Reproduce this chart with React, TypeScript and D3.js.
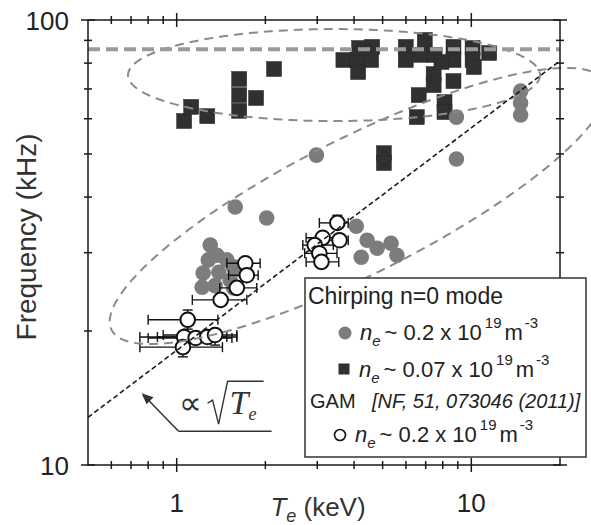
import * as d3 from "d3";
import { useEffect, useRef } from "react";

// chirping n=0 mode, n_e ~ 0.07e19 (squares)  [Te keV, f kHz]
const lowDensityChirp: [number, number][] = [
    [1.06, 59.3], [1.12, 63.8], [1.27, 60.8], [1.63, 73.7], [1.63, 67.8], [1.63, 62.5],
    [1.86, 66.8], [2.14, 77.6], [3.68, 81.3], [4.1, 81.3], [4.57, 81.3], [4.16, 86.5],
    [4.61, 87.0], [4.13, 76.4], [5.99, 87.0], [5.99, 81.3], [6.95, 90.2], [6.73, 83.5],
    [7.51, 83.5], [7.45, 75.6], [7.45, 71.4], [6.63, 67.8], [6.53, 60.5], [8.11, 65.4],
    [8.11, 62.1], [8.7, 87.0], [8.7, 81.3], [8.7, 72.9], [10.1, 86.5], [10.1, 81.3],
    [10.2, 78.4], [11.5, 84.3], [5.05, 50.2], [5.05, 47.7], [7.92, 80.5],
];

// chirping n=0 mode, n_e ~ 0.2e19 (grey circles)
const highDensityChirp: [number, number][] = [
    [1.58, 38.0], [2.02, 35.9], [2.98, 49.7], [8.9, 60.5], [8.9, 48.7],
    [14.7, 69.2], [14.7, 65.1], [14.7, 61.2],
    [4.07, 34.4], [4.43, 32.0], [4.23, 29.3], [4.79, 30.7], [5.34, 31.5], [5.59, 29.6],
    [1.3, 31.2], [1.28, 28.9], [1.48, 28.9], [1.56, 27.9], [1.23, 27.0], [1.39, 27.1],
    [1.52, 26.0], [1.22, 25.1], [1.56, 25.0], [1.35, 25.3], [1.64, 27.5], [1.37, 29.6],
];

type GamPoint = { te: number; f: number; xlo: number; xhi: number; ylo?: number; yhi?: number };

// GAM, NF 51 073046 (2011)
const gamPoints: GamPoint[] = [
    { te: 1.71, f: 28.4, xlo: 1.48, xhi: 1.92 },
    { te: 1.73, f: 26.7, xlo: 1.5, xhi: 1.89 },
    { te: 1.6, f: 25.0, xlo: 1.4, xhi: 1.87 },
    { te: 1.41, f: 23.5, xlo: 1.13, xhi: 1.73 },
    { te: 1.09, f: 21.2, xlo: 0.8, xhi: 1.38, ylo: 20.2, yhi: 22.3 },
    { te: 1.06, f: 19.4, xlo: 0.75, xhi: 1.48 },
    { te: 1.16, f: 19.3, xlo: 0.8, xhi: 1.54 },
    { te: 1.27, f: 19.4, xlo: 0.86, xhi: 1.6 },
    { te: 1.35, f: 19.6, xlo: 0.9, xhi: 1.6, ylo: 18.6 },
    { te: 1.05, f: 18.4, xlo: 0.75, xhi: 1.43, ylo: 17.5 },
    { te: 3.51, f: 35.0, xlo: 3.05, xhi: 3.82, yhi: 36.4 },
    { te: 3.57, f: 32.0, xlo: 3.1, xhi: 3.82 },
    { te: 3.13, f: 32.4, xlo: 2.75, xhi: 3.55 },
    { te: 2.94, f: 31.2, xlo: 2.68, xhi: 3.4 },
    { te: 3.05, f: 29.9, xlo: 2.72, xhi: 3.5 },
    { te: 3.1, f: 28.6, xlo: 2.75, xhi: 3.55, ylo: 27.8 },
];

const xMajorTicks = [1, 10];
const xMinorTicks = [0.6, 0.7, 0.8, 0.9, 2, 3, 4, 5, 6, 7, 8, 9];
const yMajorTicks = [10, 100];
const yMinorTicks = [20, 30, 40, 50, 60, 70, 80, 90];
const xTickLabels = ["1", "10"];
const yTickLabels = ["10", "100"];
const legendDensities = ["0.2", "0.07", "0.2"];

const sqrtCoef = 18.1; // f = C * sqrt(Te)
const cutoffFreq = 86;

export default function App() {
    const ref = useRef<SVGSVGElement | null>(null);

    useEffect(() => {
        if (!ref.current) return;
        const width = 591;
        const height = 525;
        const margin = { top: 20, right: 31, bottom: 60, left: 88 };

        const svg = d3.select(ref.current);
        svg.selectAll("*").remove();

        const x = d3.scaleLog().domain([0.5, 20]).range([margin.left, width - margin.right]);
        const y = d3.scaleLog().domain([10, 100]).range([height - margin.bottom, margin.top]);
        const x0 = margin.left, x1 = width - margin.right;
        const y0 = height - margin.bottom, y1 = margin.top;
        const sans = "'Liberation Sans', Arial, sans-serif";
        const serif = "'Liberation Serif', 'Times New Roman', serif";

        svg.append("rect").attr("width", width).attr("height", height).attr("fill", "#fff");

        // markers
        svg.append("g")
            .selectAll("rect")
            .data(lowDensityChirp)
            .join("rect")
            .attr("x", (d) => x(d[0]) - 7.5)
            .attr("y", (d) => y(d[1]) - 7.5)
            .attr("width", 15)
            .attr("height", 15)
            .attr("fill", "#303030")
            .attr("stroke", "#262626")
            .attr("stroke-width", 0.5);

        svg.append("g")
            .selectAll("circle")
            .data(highDensityChirp)
            .join("circle")
            .attr("cx", (d) => x(d[0]))
            .attr("cy", (d) => y(d[1]))
            .attr("r", 7.8)
            .attr("fill", "#7c7c7c");

        // GAM error bars + open circles
        const gam = svg.append("g").attr("stroke", "#111").attr("stroke-width", 1.4).attr("fill", "none");
        gamPoints.forEach((d) => {
            const cy = y(d.f);
            gam.append("line").attr("x1", x(d.xlo)).attr("x2", x(d.xhi)).attr("y1", cy).attr("y2", cy);
            [d.xlo, d.xhi].forEach((v) =>
                gam.append("line").attr("x1", x(v)).attr("x2", x(v)).attr("y1", cy - 5).attr("y2", cy + 5));
            [d.ylo, d.yhi].forEach((v) => {
                if (v === undefined) return;
                gam.append("line").attr("x1", x(d.te)).attr("x2", x(d.te)).attr("y1", cy).attr("y2", y(v));
                gam.append("line").attr("x1", x(d.te) - 5).attr("x2", x(d.te) + 5).attr("y1", y(v)).attr("y2", y(v));
            });
        });
        svg.append("g")
            .selectAll("circle")
            .data(gamPoints)
            .join("circle")
            .attr("cx", (d) => x(d.te))
            .attr("cy", (d) => y(d.f))
            .attr("r", 7.3)
            .attr("fill", "#fff")
            .attr("stroke", "#111")
            .attr("stroke-width", 2);

        // dashed ellipses (drawn in log space)
        const ellipses = [
            { te: 3.42, f: 75.2, rx: 206, ry: 46, angle: 0 },
            { te: 4.13, f: 38.2, rx: 276, ry: 68, angle: -26.7 },
        ];
        const line = d3.line().curve(d3.curveLinearClosed);
        ellipses.forEach((e) => {
            const cx = x(e.te), cy = y(e.f);
            const a = (e.angle * Math.PI) / 180;
            const pts: [number, number][] = d3.range(0, 2 * Math.PI, Math.PI / 90).map((t) => [
                cx + e.rx * Math.cos(t) * Math.cos(a) - e.ry * Math.sin(t) * Math.sin(a),
                cy + e.rx * Math.cos(t) * Math.sin(a) + e.ry * Math.sin(t) * Math.cos(a),
            ]);
            svg.append("path")
                .attr("d", line(pts))
                .attr("fill", "none")
                .attr("stroke", "#8a8a8a")
                .attr("stroke-width", 2)
                .attr("stroke-dasharray", "9 6");
        });

        // cutoff line
        svg.append("line")
            .attr("x1", x(0.5)).attr("x2", x(20))
            .attr("y1", y(cutoffFreq)).attr("y2", y(cutoffFreq))
            .attr("stroke", "#9a9a9a")
            .attr("stroke-width", 4)
            .attr("stroke-dasharray", "12 6");

        // sqrt(Te) scaling line
        const teLine = d3.range(0, 61).map((i) => 0.5 * Math.pow(40, i / 60));
        svg.append("path")
            .attr("d", d3.line<number>().x((t) => x(t)).y((t) => y(sqrtCoef * Math.sqrt(t)))(teLine))
            .attr("fill", "none")
            .attr("stroke", "#1a1a1a")
            .attr("stroke-width", 1.6)
            .attr("stroke-dasharray", "5 3");

        // frame and ticks
        const axis = svg.append("g").attr("stroke", "#1a1a1a").attr("stroke-width", 1.5);
        axis.append("rect").attr("x", x0).attr("y", y1).attr("width", x1 - x0).attr("height", y0 - y1).attr("fill", "none");
        const xt = [...xMajorTicks.map((v) => ({ v, l: 7 })), ...xMinorTicks.map((v) => ({ v, l: 4 }))];
        xt.forEach(({ v, l }) => {
            [y0, y1].forEach((yy) =>
                axis.append("line").attr("x1", x(v)).attr("x2", x(v)).attr("y1", yy - l).attr("y2", yy + l));
        });
        const yt = [...yMajorTicks.map((v) => ({ v, l: 7 })), ...yMinorTicks.map((v) => ({ v, l: 4 }))];
        yt.forEach(({ v, l }) => {
            [x0, x1].forEach((xx) =>
                axis.append("line").attr("x1", xx - l).attr("x2", xx + l).attr("y1", y(v)).attr("y2", y(v)));
        });

        svg.append("g")
            .selectAll("text")
            .data(xMajorTicks)
            .join("text")
            .attr("x", (d) => x(d))
            .attr("y", y0 + 47)
            .attr("text-anchor", "middle")
            .style("font", `26px ${sans}`)
            .attr("fill", "#222")
            .text((_, i) => xTickLabels[i]);
        svg.append("g")
            .selectAll("text")
            .data(yMajorTicks)
            .join("text")
            .attr("x", x0 - 19)
            .attr("y", (d) => y(d) + 10)
            .attr("text-anchor", "end")
            .style("font", `26px ${sans}`)
            .attr("fill", "#222")
            .text((_, i) => yTickLabels[i]);

        // axis titles
        const xt2 = svg.append("text")
            .attr("x", 318)
            .attr("y", y0 + 51)
            .attr("text-anchor", "middle")
            .attr("fill", "#333")
            .style("font", `26px ${sans}`);
        xt2.append("tspan").style("font-style", "italic").text("T");
        xt2.append("tspan").attr("dy", 6).style("font-size", "18px").style("font-style", "italic").text("e");
        xt2.append("tspan").attr("dy", -6).text(" (keV)");

        svg.append("text")
            .attr("transform", `translate(36,237) rotate(-90)`)
            .attr("text-anchor", "middle")
            .attr("fill", "#333")
            .style("font", `28px ${sans}`)
            .text("Frequency (kHz)");

        // sqrt(Te) annotation
        const tip: [number, number] = [x(0.76), y(14.5)];
        const ann = svg.append("g").attr("stroke", "#333").attr("stroke-width", 1.5).attr("fill", "none");
        ann.append("path").attr("d", `M${tip[0] + 37},${tip[1] + 38} L${tip[0] + 130},${tip[1] + 38}`);
        ann.append("path").attr("d", `M${tip[0] + 37},${tip[1] + 38} L${tip[0] + 4},${tip[1] + 4}`);
        svg.append("path")
            .attr("d", `M${tip[0]},${tip[1]} L${tip[0] + 12},${tip[1] + 4} L${tip[0] + 5},${tip[1] + 11} Z`)
            .attr("fill", "#333");
        svg.append("text")
            .attr("x", tip[0] + 37).attr("y", tip[1] + 21)
            .style("font", `32px ${serif}`).attr("fill", "#333").text("∝");
        ann.append("path")
            .attr("d", `M${tip[0] + 66},${tip[1] + 10} L${tip[0] + 71},${tip[1] + 7} L${tip[0] + 77},${tip[1] + 31} L${tip[0] + 86},${tip[1] - 12} L${tip[0] + 122},${tip[1] - 12}`)
            .attr("stroke-width", 1.4);
        const te = svg.append("text")
            .attr("x", tip[0] + 88).attr("y", tip[1] + 21)
            .attr("fill", "#333")
            .style("font", `italic 34px ${serif}`);
        te.append("tspan").text("T");
        te.append("tspan").attr("dy", 6).style("font-size", "18px").text("e");

        // legend
        const lg = svg.append("g");
        lg.append("rect")
            .attr("x", 305).attr("y", 278).attr("width", 281).attr("height", 179)
            .attr("fill", "#fff").attr("stroke", "#333").attr("stroke-width", 1.5);
        lg.append("text").attr("x", 308).attr("y", 304)
            .style("font", `23px ${sans}`).attr("fill", "#222").text("Chirping n=0 mode");
        const gamT = lg.append("text").attr("x", 310).attr("y", 408)
            .style("font", `20px ${sans}`).attr("fill", "#222");
        gamT.append("tspan").text("GAM");
        gamT.append("tspan").attr("x", 372).style("font-style", "italic").text("[NF, 51, 073046 (2011)]");

        const rows = [
            { mx: 345, my: 333, ty: 340 },
            { mx: 344, my: 369, ty: 377 },
            { mx: 340, my: 435, ty: 442 },
        ];
        lg.append("circle").attr("cx", rows[0].mx).attr("cy", rows[0].my).attr("r", 6.5).attr("fill", "#7c7c7c");
        lg.append("rect").attr("x", rows[1].mx - 5.5).attr("y", rows[1].my - 5.5).attr("width", 11).attr("height", 11).attr("fill", "#303030");
        lg.append("circle").attr("cx", rows[2].mx).attr("cy", rows[2].my).attr("r", 5.5).attr("fill", "#fff").attr("stroke", "#111").attr("stroke-width", 1.6);
        rows.forEach((r, i) => {
            const t = lg.append("text").attr("x", r.mx + 15).attr("y", r.ty)
                .style("font", `22px ${sans}`).attr("fill", "#222");
            t.append("tspan").style("font-style", "italic").text("n");
            t.append("tspan").attr("dy", 6).style("font-size", "15px").style("font-style", "italic").text("e");
            t.append("tspan").attr("dy", -6).attr("dx", 4).text(`~ ${legendDensities[i]} x 10`);
            t.append("tspan").attr("dy", -12).attr("dx", 3).style("font-size", "15px").text("19");
            t.append("tspan").attr("dy", 12).attr("dx", 3).text("m");
            t.append("tspan").attr("dy", -12).attr("dx", 2).style("font-size", "15px").text("-3");
        });
    }, []);

    return (
        <div style={{ position: "absolute", left: 0, top: 0 }}>
            <svg ref={ref} width={591} height={525} style={{ display: "block" }}></svg>
        </div>
    );
}
